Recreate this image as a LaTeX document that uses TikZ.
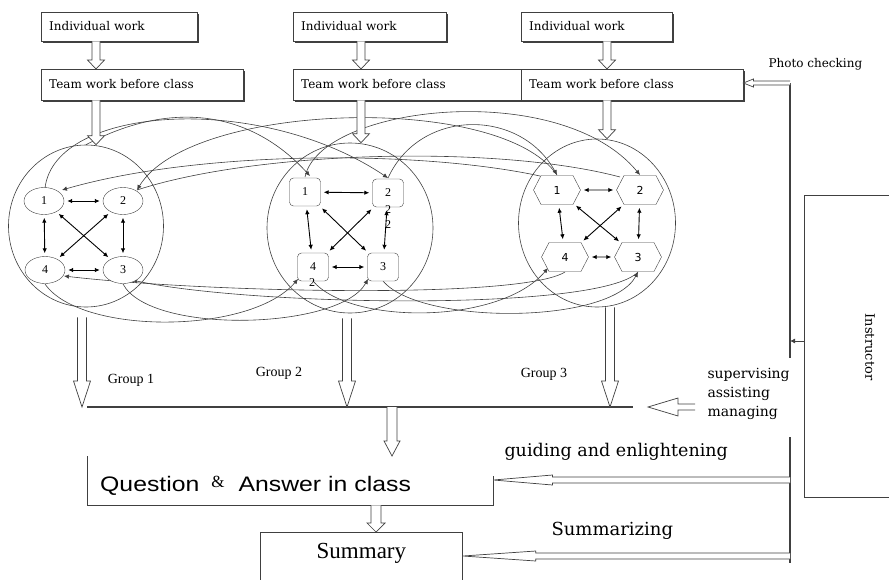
\documentclass[tikz,border=0pt]{standalone}
\usepackage{fontspec}
\setmainfont{DejaVu Serif}
\newfontfamily\timesfont{Liberation Serif}
\newfontfamily\arialfont[FakeStretch=1.18]{Liberation Sans}
\newfontfamily\hexfont{DejaVu Sans}
\usetikzlibrary{shapes.geometric,shapes.symbols,arrows.meta,calc,shadows}

\definecolor{ink}{gray}{0.25}

\tikzset{
  box/.style={draw=ink, fill=white, anchor=north west, align=left,
    inner xsep=8pt, text height=9pt, text depth=2pt,
    font=\fontsize{12}{14}\selectfont,
    drop shadow={shadow xshift=1.3pt, shadow yshift=-1.3pt, fill=ink, opacity=1}},
  ell/.style={ellipse, draw=ink, fill=white, minimum width=40pt, minimum height=27pt,
    inner sep=0pt, font=\timesfont\fontsize{12}{12}\selectfont},
  sq/.style={draw=ink, fill=white, rounded corners=4pt, minimum width=31pt,
    minimum height=28pt, inner sep=0pt, font=\timesfont\fontsize{12}{12}\selectfont},
  hex/.style={signal, signal to=east and west, signal pointer angle=125, draw=ink,
    fill=white, minimum width=47pt, minimum height=29pt, inner sep=0pt,
    font=\hexfont\fontsize{11}{11}\selectfont},
  grp/.style={ellipse, draw=ink, line width=.6pt},
  link/.style={{Latex[length=5pt,width=4.5pt]}-{Latex[length=5pt,width=4.5pt]},
    line width=.9pt, shorten <=3pt, shorten >=3pt},
  cross/.style={draw=ink, line width=.6pt, -{Latex[length=5pt,width=4.5pt]}},
  bus/.style={draw=ink, line width=1.5pt},
  % hollow block arrows: head length, head half width, shaft half width
  hdown/.style n args={3}{fill=white, draw=ink, line width=.7pt, to path={
    let \p1=(\tikztostart), \p2=(\tikztotarget) in
    (\x1-#3,\y1) -- (\x1-#3,\y2+#1) -- (\x1-#2,\y2+#1) -- (\x1,\y2)
    -- (\x1+#2,\y2+#1) -- (\x1+#3,\y2+#1) -- (\x1+#3,\y1)}},
  hleft/.style n args={3}{fill=white, draw=ink, line width=.7pt, to path={
    let \p1=(\tikztostart), \p2=(\tikztotarget) in
    (\x1,\y1+#3) -- (\x2+#1,\y1+#3) -- (\x2+#1,\y1+#2) -- (\x2,\y1)
    -- (\x2+#1,\y1-#2) -- (\x2+#1,\y1-#3) -- (\x1,\y1-#3)}}
}

\begin{document}
\begin{tikzpicture}[x=1pt, y=-1pt]
  \useasboundingbox (0,0) rectangle (889,579);

  % work before class
  \node[box, text width=140pt, minimum height=29pt](Ind1) at (41,12) {Individual work};
  \node[box, text width=137pt, minimum height=29pt](Ind2) at (293,12) {Individual work};
  \node[box, text width=135pt, minimum height=29pt](Ind3) at (521,12) {Individual work};
  \node[box, text width=186pt, minimum height=31pt](Team1) at (41,69) {Team work before class};
  \node[box, text width=213pt, minimum height=31pt](Team2) at (293,69) {Team work before class};
  \node[box, text width=206pt, minimum height=31pt](Team3) at (521,69) {Team work before class};

  % the three groups
  \node[grp, minimum width=155pt, minimum height=162pt](C1) at (86,226) {};
  \node[grp, minimum width=166pt, minimum height=170pt](C2) at (350,228) {};
  \node[grp, minimum width=157pt, minimum height=168pt](C3) at (597,223) {};

  % links between the groups
  \draw[cross] (C1.north) .. controls (170,100) and (250,110) .. (310,176);
  \draw[ink, line width=.6pt] (137,190) .. controls (260,150) and (500,145) .. (620,177);
  \draw[cross] (45,188) .. controls (55,105) and (260,92) .. (388,178);
  \draw[cross] (305,177) .. controls (320,105) and (560,78) .. (640,175);
  \draw[cross] (557,175) .. controls (500,92) and (190,102) .. (137,190);
  \draw[cross] (540,176) .. controls (420,150) and (200,150) .. (62,190);
  \draw[cross] (388,178) .. controls (420,108) and (520,108) .. (557,175);
  \draw[cross] (565,272) .. controls (520,300) and (200,292) .. (64,276);
  \draw[cross] (638,272) .. controls (600,312) and (250,306) .. (132,280);
  \draw[cross] (45,284) .. controls (80,335) and (250,335) .. (298,279);
  \draw[cross] (123,284) .. controls (150,335) and (340,330) .. (368,279);
  \draw[cross] (313,281) .. controls (350,325) and (500,325) .. (548,268);
  \draw[cross] (383,281) .. controls (420,325) and (610,325) .. (638,272);

  % group 1
  \node[ell](G1n1) at (44,201) {1};
  \node[ell](G1n2) at (123,201) {2};
  \node[ell](G1n4) at (45,270) {4};
  \node[ell](G1n3) at (123,270) {3};
  \draw[link] (G1n1) -- (G1n2);
  \draw[link] (G1n1) -- (G1n4);
  \draw[link] (G1n2) -- (G1n3);
  \draw[link] (G1n4) -- (G1n3);
  \draw[link] (G1n1) -- (G1n3);
  \draw[link] (G1n2) -- (G1n4);

  % group 2
  \node[sq](G2n1) at (305,192) {1};
  \node[sq](G2n2) at (388,193) {2};
  \node[sq](G2n4) at (313,267) {4};
  \node[sq](G2n3) at (383,267) {3};
  \draw[link] (G2n1) -- (G2n2);
  \draw[link] (G2n1) -- (G2n4);
  \draw[link] (G2n2) -- (G2n3);
  \draw[link] (G2n4) -- (G2n3);
  \draw[link] (G2n1) -- (G2n3);
  \draw[link] (G2n2) -- (G2n4);
  \node[font=\timesfont\fontsize{12}{12}\selectfont](Odd1) at (388,210) {2};
  \node[font=\timesfont\fontsize{12}{12}\selectfont](Odd2) at (388,225) {2};
  \node[font=\timesfont\fontsize{12}{12}\selectfont](Odd3) at (312,283) {2};

  % group 3
  \node[hex](G3n1) at (557,190) {1};
  \node[hex](G3n2) at (640,190) {2};
  \node[hex](G3n4) at (565,257) {4};
  \node[hex](G3n3) at (638,257) {3};
  \draw[link] (G3n1) -- (G3n2);
  \draw[link] (G3n1) -- (G3n4);
  \draw[link] (G3n2) -- (G3n3);
  \draw[link] (G3n4) -- (G3n3);
  \draw[link] (G3n1) -- (G3n3);
  \draw[link] (G3n2) -- (G3n4);

  % arrows down the page
  \draw[hdown={9pt}{8.5pt}{4pt}] ([xshift=55pt]Ind1.south west) to ([xshift=55pt]Team1.north west);
  \draw[hdown={9pt}{8.5pt}{4pt}] ([xshift=68pt]Ind2.south west) to ([xshift=68pt]Team2.north west);
  \draw[hdown={9pt}{8.5pt}{4pt}] ([xshift=86pt]Ind3.south west) to ([xshift=86pt]Team3.north west);
  \draw[hdown={9pt}{8.5pt}{4pt}] ([xshift=55pt]Team1.south west) to ([xshift=55pt]Team1.south west |- C1.north);
  \draw[hdown={9pt}{8.5pt}{4pt}] ([xshift=68pt]Team2.south west) to ([xshift=68pt]Team2.south west |- C2.north);
  \draw[hdown={9pt}{8.5pt}{4pt}] ([xshift=86pt]Team3.south west) to ([xshift=86pt]Team3.south west |- C3.north);

  \coordinate (BarL) at (87,407);
  \coordinate (BarR) at (633,407);
  \coordinate (BarQ) at (392,407);
  \draw[ink, line width=1.3pt] (BarL) -- (BarR);
  \draw[hdown={26pt}{8.5pt}{4.5pt}] ([xshift=-4pt,yshift=-10pt]C1.south) to ([xshift=-4pt]C1.south |- BarL);
  \draw[hdown={26pt}{8.5pt}{4.5pt}] ([xshift=-3pt,yshift=-5pt]C2.south) to ([xshift=-3pt]C2.south |- BarL);
  \draw[hdown={26pt}{8.5pt}{4.5pt}] ([xshift=13pt]C3.south) to ([xshift=13pt]C3.south |- BarL);
  \node[font=\timesfont\fontsize{14}{14}\selectfont](Grp1) at (131,380) {Group 1};
  \node[font=\timesfont\fontsize{14}{14}\selectfont](Grp2) at (279,373) {Group 2};
  \node[font=\timesfont\fontsize{14}{14}\selectfont](Grp3) at (544,374) {Group 3};

  % in class
  \node[anchor=north west, minimum width=406pt, minimum height=49pt, text width=380pt,
    inner xsep=13pt, align=left, text height=22pt, text depth=1pt,
    font=\arialfont\fontsize{21}{24}\selectfont](QA) at (87,456)
    {Question\hspace{12pt}\raisebox{4pt}{\timesfont\fontsize{17}{17}\selectfont\&}\hspace{14pt}Answer in class};
  \draw[ink, line width=.8pt] (QA.north west) -- (QA.south west) -- (QA.south east) -- ([yshift=-20pt]QA.north east);
  \draw[hdown={15pt}{8pt}{5pt}] (BarQ) to (BarQ |- QA.north);
  \node[draw=ink, line width=.8pt, anchor=north west, minimum width=202pt, minimum height=56pt,
    text height=16pt, text depth=20pt, font=\timesfont\fontsize{23}{26}\selectfont](Sum) at (260,532) {Summary};
  \coordinate (QSx) at (376,0);
  \draw[hdown={9pt}{9pt}{5pt}] (QA.south -| QSx) to (Sum.north -| QSx);

  % instructor side
  \node[anchor=north west, minimum width=85pt, minimum height=302pt](Instr) at (804,195) {};
  \draw[ink, line width=.8pt] (Instr.north east) -- (Instr.north west) -- (Instr.south west) -- (Instr.south east);
  \node[rotate=-90, font=\fontsize{13}{13}\selectfont](InstrTxt) at (870,347) {Instructor};

  \coordinate (BusTop) at (790,83);
  \coordinate (BusMid) at (790,358);
  \coordinate (BusLow) at (790,437);
  \coordinate (BusBot) at (790,563);
  \coordinate (BusIn) at (790,341);
  \coordinate (BusQ) at (790,480);
  \coordinate (BusS) at (790,556);
  \draw[bus] (BusTop) -- (BusMid);
  \draw[bus] (BusLow) -- (BusBot);
  \draw[ink, line width=.8pt, -{Latex[length=5pt,width=5pt]}] (Instr.west |- BusIn) -- (BusIn);

  \draw[hleft={10pt}{4pt}{2pt}] (BusTop) to (Team3.east |- BusTop);
  \node[anchor=west, font=\fontsize{12}{14}\selectfont](Photo) at (765,64) {Photo checking};

  \node[anchor=west, align=left, font=\fontsize{14}{19}\selectfont](Sup) at (704,394)
    {supervising\\assisting\\managing};
  \coordinate (SupR) at (695,407);
  \draw[hleft={30pt}{9pt}{3pt}] (SupR) to (BarR -| 648,0);

  \draw[hleft={59pt}{5pt}{3pt}] (BusQ) to (QA.east |- BusQ);
  \node[anchor=west, font=\fontsize{17.5}{20}\selectfont](Guide) at (501,452) {guiding and enlightening};
  \draw[hleft={73pt}{5pt}{3pt}] (BusS) to (Sum.east |- BusS);
  \node[anchor=west, font=\fontsize{18}{20}\selectfont](Summ) at (548,531) {Summarizing};
\end{tikzpicture}
\end{document}
